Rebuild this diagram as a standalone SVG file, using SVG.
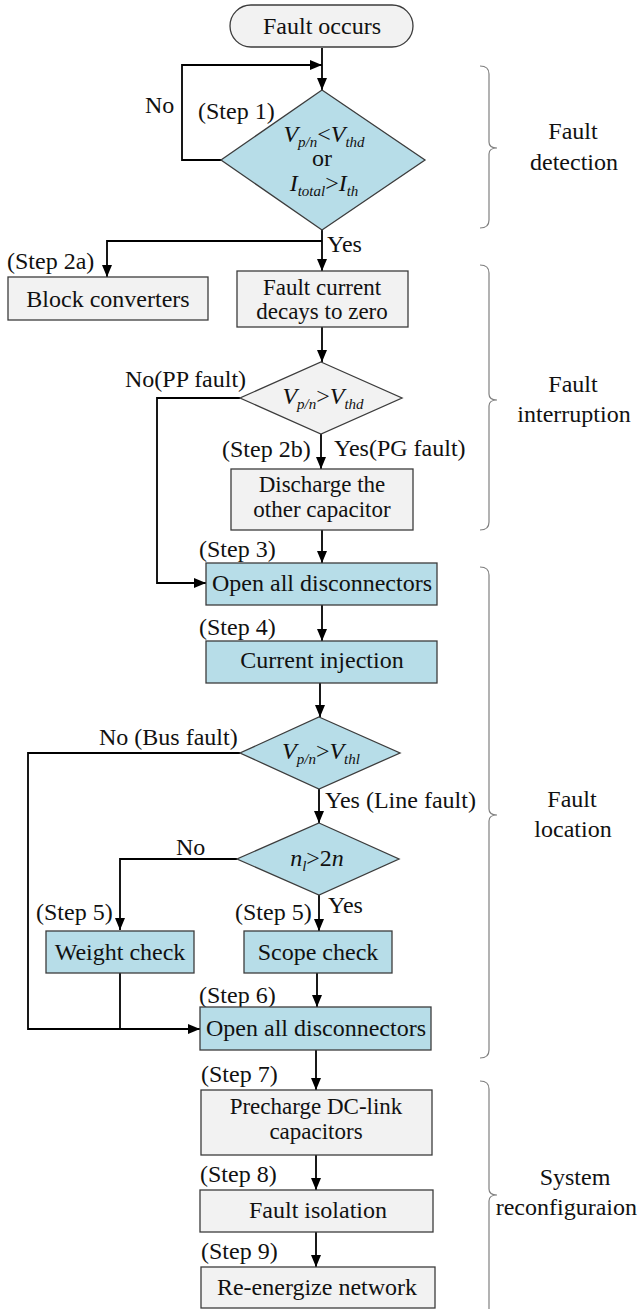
<svg xmlns="http://www.w3.org/2000/svg" width="642" height="1309" viewBox="0 0 642 1309">
<style>
text{font-family:"Liberation Serif","Times New Roman",serif;font-size:24px;fill:#111}
.m{text-anchor:middle}
.t2{font-size:23px}
.i{font-style:italic}
.s{font-style:italic;font-size:15px}
.box{stroke:#3c3c3c;stroke-width:1.3}
.blue{fill:#b7dde8}
.gray{fill:#f2f2f2}
.conn{stroke:#000;stroke-width:1.8;fill:none}
.brace{stroke:#808080;stroke-width:1.2;fill:none}
</style>
<defs>
<marker id="arr" viewBox="0 0 12 10" markerWidth="12" markerHeight="10" refX="12" refY="5" orient="auto" markerUnits="userSpaceOnUse">
<path d="M0,0 L12,5 L0,10 z" fill="#000"/>
</marker>
</defs>
<rect width="642" height="1309" fill="#fff"/>

<g id="connectors">
<path class="conn" d="M322,48 V90" marker-end="url(#arr)"/>
<path class="conn" d="M221,160 H182 V65 H322" marker-end="url(#arr)"/>
<path class="conn" d="M322,230 V271" marker-end="url(#arr)"/>
<path class="conn" d="M322,241 H107 V277" marker-end="url(#arr)"/>
<path class="conn" d="M322,327 V362" marker-end="url(#arr)"/>
<path class="conn" d="M321,434 V469" marker-end="url(#arr)"/>
<path class="conn" d="M240,398 H157 V583 H206" marker-end="url(#arr)"/>
<path class="conn" d="M322,530 V563" marker-end="url(#arr)"/>
<path class="conn" d="M322,605 V641" marker-end="url(#arr)"/>
<path class="conn" d="M320,683 V717" marker-end="url(#arr)"/>
<path class="conn" d="M319,789 V823" marker-end="url(#arr)"/>
<path class="conn" d="M240,753 H28 V1029 H200" marker-end="url(#arr)"/>
<path class="conn" d="M237,859 H120 V930" marker-end="url(#arr)"/>
<path class="conn" d="M319,895 V931" marker-end="url(#arr)"/>
<path class="conn" d="M120,973 V1029"/>
<path class="conn" d="M317,973 V1007" marker-end="url(#arr)"/>
<path class="conn" d="M316,1050 V1090" marker-end="url(#arr)"/>
<path class="conn" d="M316,1155 V1190" marker-end="url(#arr)"/>
<path class="conn" d="M316,1232 V1267" marker-end="url(#arr)"/>
</g>

<g id="start">
<rect class="box gray" x="230" y="5" width="183" height="42" rx="21" ry="21"/>
<text class="m" x="322" y="34">Fault occurs</text>
</g>

<g id="step1">
<polygon class="box blue" points="322,90 425,160 322,230 221,160"/>
<text x="198" y="119">(Step 1)</text>
<text class="m" x="324" y="142"><tspan class="i">V</tspan><tspan class="s" dy="5">p/n</tspan><tspan dy="-5">&lt;</tspan><tspan class="i">V</tspan><tspan class="s" dy="5">thd</tspan></text>
<text class="m" x="322" y="166">or</text>
<text class="m" x="324" y="191"><tspan class="i">I</tspan><tspan class="s" dy="5">total</tspan><tspan dy="-5">&gt;</tspan><tspan class="i">I</tspan><tspan class="s" dy="5">th</tspan></text>
</g>

<g id="labels-step1">
<text x="145" y="113">No</text>
<text x="327" y="252">Yes</text>
</g>

<g id="step2a">
<text x="7" y="269">(Step 2a)</text>
<rect class="box gray" x="8" y="277" width="200" height="43"/>
<text class="m" x="108" y="307">Block converters</text>
</g>

<g id="decay">
<rect class="box gray" x="237" y="271" width="171" height="56"/>
<text class="m t2" x="322" y="295">Fault current</text>
<text class="m t2" x="322" y="319">decays to zero</text>
</g>

<g id="dec2">
<polygon class="box gray" points="321,362 402,398 321,434 240,398"/>
<text class="m" x="323" y="404"><tspan class="i">V</tspan><tspan class="s" dy="5">p/n</tspan><tspan dy="-5">&gt;</tspan><tspan class="i">V</tspan><tspan class="s" dy="5">thd</tspan></text>
<text x="125" y="387">No(PP fault)</text>
<text x="334" y="456">Yes(PG fault)</text>
</g>

<g id="step2b">
<text x="222" y="457">(Step 2b)</text>
<rect class="box gray" x="231" y="469" width="182" height="61"/>
<text class="m t2" x="322" y="492">Discharge the</text>
<text class="m t2" x="322" y="517">other capacitor</text>
</g>

<g id="step3">
<text x="199" y="557">(Step 3)</text>
<rect class="box blue" x="206" y="563" width="231" height="42"/>
<text class="m" x="322" y="591">Open all disconnectors</text>
</g>

<g id="step4">
<text x="199" y="635">(Step 4)</text>
<rect class="box blue" x="206" y="641" width="231" height="42"/>
<text class="m" x="322" y="668">Current injection</text>
</g>

<g id="dec3">
<polygon class="box blue" points="319,717 400,753 319,789 240,753"/>
<text class="m" x="321" y="759"><tspan class="i">V</tspan><tspan class="s" dy="5">p/n</tspan><tspan dy="-5">&gt;</tspan><tspan class="i">V</tspan><tspan class="s" dy="5">thl</tspan></text>
<text x="99" y="745">No (Bus fault)</text>
<text x="325" y="808">Yes (Line fault)</text>
</g>

<g id="dec4">
<polygon class="box blue" points="319,823 399,859 319,895 237,859"/>
<text class="m" x="317" y="866"><tspan class="i">n</tspan><tspan class="s" dy="5">l</tspan><tspan dy="-5">&gt;2</tspan><tspan class="i">n</tspan></text>
<text x="176" y="855">No</text>
<text x="328" y="913">Yes</text>
</g>

<g id="weight">
<text x="36" y="920">(Step 5)</text>
<rect class="box blue" x="46" y="931" width="148" height="42"/>
<text class="m" x="120" y="960">Weight check</text>
</g>

<g id="scope">
<text x="235" y="920">(Step 5)</text>
<rect class="box blue" x="244" y="931" width="148" height="42"/>
<text class="m" x="318" y="960">Scope check</text>
</g>

<g id="step6">
<text x="199" y="1003">(Step 6)</text>
<rect class="box blue" x="200" y="1007" width="231" height="43"/>
<text class="m" x="316" y="1036">Open all disconnectors</text>
</g>

<g id="step7">
<text x="201" y="1082">(Step 7)</text>
<rect class="box gray" x="201" y="1090" width="231" height="65"/>
<text class="m t2" x="316" y="1114">Precharge DC-link</text>
<text class="m t2" x="316" y="1139">capacitors</text>
</g>

<g id="step8">
<text x="200" y="1182">(Step 8)</text>
<rect class="box gray" x="200" y="1190" width="233" height="42"/>
<text class="m" x="318" y="1218">Fault isolation</text>
</g>

<g id="step9">
<text x="201" y="1259">(Step 9)</text>
<rect class="box gray" x="201" y="1267" width="234" height="41"/>
<text class="m" x="317" y="1295">Re-energize network</text>
</g>

<g id="brace-detection">
<path class="brace" d="M480,66 Q489,66 489,74 V142 Q489,148 497,148 Q489,148 489,154 V220 Q489,228 480,228"/>
<text class="m" x="573" y="139">Fault</text>
<text class="m" x="574" y="170">detection</text>
</g>

<g id="brace-interruption">
<path class="brace" d="M480,265 Q489,265 489,273 V394 Q489,400 497,400 Q489,400 489,406 V522 Q489,530 480,530"/>
<text class="m" x="573" y="392">Fault</text>
<text class="m" x="574" y="422">interruption</text>
</g>

<g id="brace-location">
<path class="brace" d="M480,567 Q489,567 489,575 V809 Q489,815 497,815 Q489,815 489,821 V1050 Q489,1058 480,1058"/>
<text class="m" x="572" y="807">Fault</text>
<text class="m" x="573" y="837">location</text>
</g>

<g id="brace-reconfig">
<path class="brace" d="M480,1081 Q489,1081 489,1089 V1189 Q489,1195 497,1195 Q489,1195 489,1201 V1309"/>
<text class="m" x="575" y="1185" font-size="22">System</text>
<text x="637" y="1215" font-size="21" text-anchor="end">reconfiguraion</text>
</g>
</svg>
